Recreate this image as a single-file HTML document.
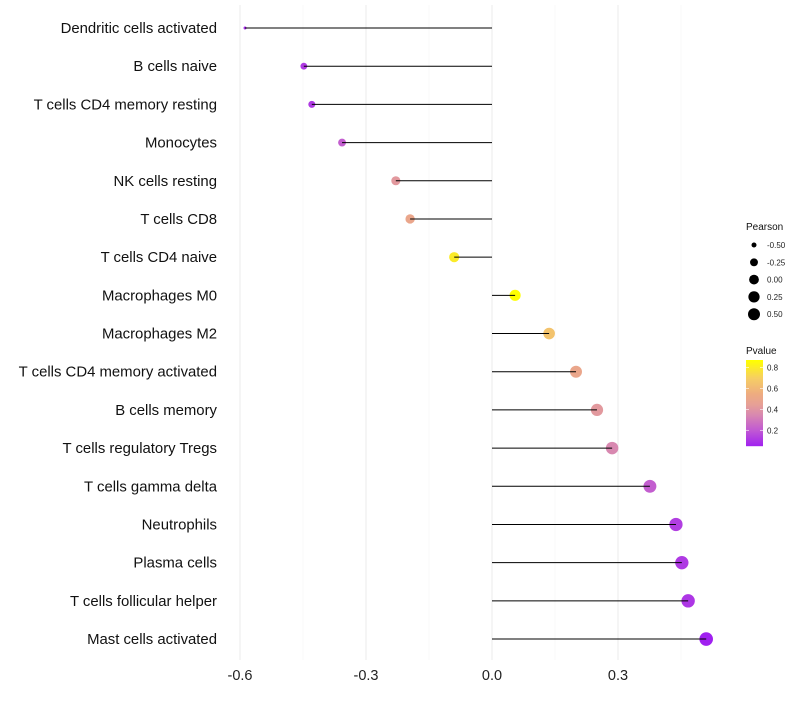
<!DOCTYPE html>
<html><head><meta charset="utf-8"><style>
body{margin:0;background:#fff;font-family:"Liberation Sans",sans-serif}
</style></head><body>
<svg id="chart" width="800" height="700" xmlns="http://www.w3.org/2000/svg"></svg>
<script>
const categories=["Dendritic cells activated","B cells naive","T cells CD4 memory resting","Monocytes","NK cells resting","T cells CD8","T cells CD4 naive","Macrophages M0","Macrophages M2","T cells CD4 memory activated","B cells memory","T cells regulatory  Tregs ","T cells gamma delta","Neutrophils","Plasma cells","T cells follicular helper","Mast cells activated"];
const pearson=[-0.588,-0.448,-0.429,-0.357,-0.229,-0.195,-0.09,0.055,0.136,0.2,0.25,0.286,0.376,0.438,0.452,0.467,0.51];
const pvalue=[0.08,0.12,0.12,0.22,0.42,0.5,0.8,0.87,0.65,0.5,0.42,0.35,0.22,0.13,0.12,0.11,0.05];
const xTicks=[-0.6,-0.3,0.0,0.3];
const xTickLabels=["-0.6","-0.3","0.0","0.3"];
const sizeLegend=[-0.5,-0.25,0,0.25,0.5];
const sizeLegendLabels=["-0.50","-0.25","0.00","0.25","0.50"];
const colorTicks=[0.2,0.4,0.6,0.8];

const svg=document.getElementById('chart');const NS="http://www.w3.org/2000/svg";
function mk(t,a,p){const e=document.createElementNS(NS,t);for(const k in a)e.setAttribute(k,a[k]);(p||svg).appendChild(e);return e;}
const x=v=>492+v*420;
const y=i=>28+i*38.19;
const pmin=Math.min(...pearson),pmax=Math.max(...pearson);
const r=p=>1.5+5.3*Math.sqrt(Math.max(0,(p-pmin))/(pmax-pmin));
const stops=[[0.05,[160,32,240]],[0.2,[192,88,212]],[0.35,[216,136,176]],[0.45,[230,160,150]],[0.55,[238,172,128]],[0.7,[246,206,100]],[0.87,[255,255,0]]];
function col(v){if(v<=stops[0][0])return `rgb(${stops[0][1]})`;for(let i=1;i<stops.length;i++){if(v<=stops[i][0]){const t=(v-stops[i-1][0])/(stops[i][0]-stops[i-1][0]);const a=stops[i-1][1],b=stops[i][1];return `rgb(${a.map((c,j)=>Math.round(c+(b[j]-c)*t)).join(',')})`;}}return 'rgb(255,255,0)';}
// grid
[-0.45,-0.15,0.15,0.45].forEach(v=>{const l=mk('line',{x1:x(v),x2:x(v),y1:5,y2:660,stroke:'#f3f3f3','stroke-width':0.6});});
xTicks.forEach((v,i)=>{const l=mk('line',{x1:x(v),x2:x(v),y1:5,y2:660,stroke:'#ebebeb','stroke-width':1});
const t=mk('text',{x:x(v),y:680,'text-anchor':'middle','font-size':14.5,fill:'#222'});t.textContent=xTickLabels[i];});
categories.forEach((c,i)=>{
const t=mk('text',{x:217,y:y(i)+5,'text-anchor':'end','font-size':14.9,fill:'#111'});t.textContent=c;
const d=mk('circle',{cx:x(pearson[i]),cy:y(i),r:r(pearson[i]),fill:col(pvalue[i])});
const l=mk('line',{x1:x(0),x2:x(pearson[i]),y1:y(i),y2:y(i),stroke:'#000','stroke-width':1});
});
// legends
const lt=mk('text',{x:746,y:230,'font-size':10,fill:'#111'});lt.textContent='Pearson';
sizeLegend.forEach((v,i)=>{const cy=245+i*17.3;const c=mk('circle',{cx:754,cy:cy,r:Math.min(6,r(v)-0.5),fill:'#000'});
const t=mk('text',{x:767,y:cy+3,'font-size':8,fill:'#222'});t.textContent=sizeLegendLabels[i];});
const pt=mk('text',{x:746,y:354,'font-size':10,fill:'#111'});pt.textContent='Pvalue';
const g=mk('g',{});
const cy=v=>446-(v-0.05)*(86/0.82);
for(let k=0;k<86;k++){const v=0.05+(86-k)/86*0.82;mk('rect',{x:746,y:360+k,width:17,height:1.2,fill:col(v)},g);}
colorTicks.forEach(v=>{mk('line',{x1:746,x2:749,y1:cy(v),y2:cy(v),stroke:'#fff','stroke-width':0.6},g);mk('line',{x1:760,x2:763,y1:cy(v),y2:cy(v),stroke:'#fff','stroke-width':0.6},g);
const t=mk('text',{x:767,y:cy(v)+3,'font-size':8,fill:'#222'});t.textContent=v.toFixed(1);});
</script>
</body></html>
